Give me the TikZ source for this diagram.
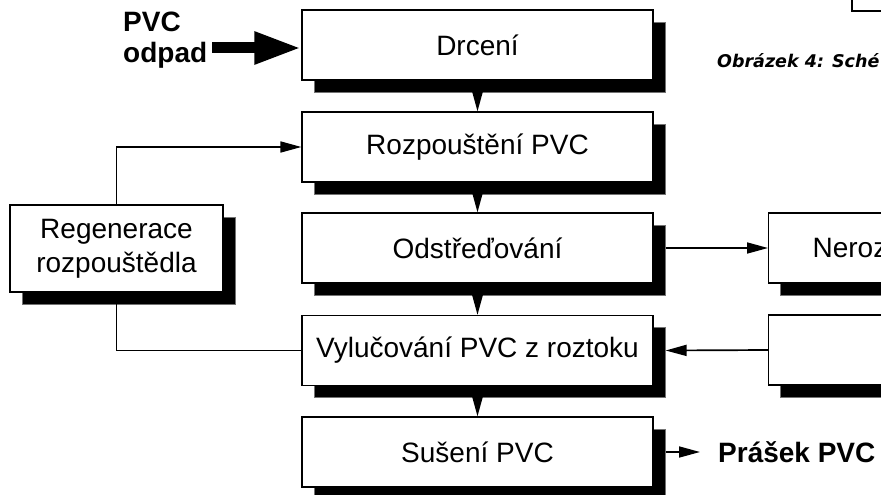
\documentclass[tikz,border=0pt]{standalone}
\usepackage{fontspec}
\setmainfont{Liberation Sans}
\newfontfamily\capfont{DejaVu Sans}
\usetikzlibrary{arrows.meta,shadows}
\begin{document}
\begin{tikzpicture}[x=1pt,y=-1pt,
  stagebox/.style={draw=black, line width=1.2pt, fill=white, inner sep=0pt,
    minimum width=351pt, minimum height=70pt,
    font=\fontsize{28}{34}\selectfont,
    drop shadow={shadow xshift=12pt, shadow yshift=-12pt, fill=black,
      draw=black!55, line width=0.6pt, opacity=1}},
  sidebox/.style={stagebox, minimum width=200pt, anchor=west},
  flow/.style={line width=1.7pt, -{Triangle[length=21pt,width=11pt]}},
  plain/.style={line width=1.7pt},
  infeed/.style={line width=11pt, -{Triangle[length=47pt,width=30pt]}},
  boldlabel/.style={inner sep=0pt, font=\bfseries\fontsize{28}{31}\selectfont}]

\useasboundingbox (0,0) rectangle (881,495);
\clip (0,0) rectangle (881,495);

% main process column
\node[stagebox] (drc) at (477.5,45)    {Drcení};
\node[stagebox] (roz) at (477.5,147)   {Rozpouštění PVC};
\node[stagebox] (ods) at (477.5,248)   {Odstřeďování};
\node[stagebox] (vyl) at (477.5,350.5) {Vylučování PVC z roztoku};
\node[stagebox] (sus) at (477.5,452)   {Sušení PVC};

% solvent recovery
\node[stagebox, minimum width=213pt, minimum height=87pt, align=center]
  (reg) at (116.5,248.5) {Regenerace\\rozpouštědla};

% side boxes on the right
\node[sidebox, text width=112pt, inner xsep=44pt, align=left]
  (ner) at (768,248) {Neroz};
\node[sidebox] (ret) at (768,350) {};

% frame corner at the top right
\node[draw=black, line width=1.5pt, minimum width=100pt, minimum height=60pt,
  anchor=south west, inner sep=0pt] (frm) at (851,12) {};

% caption
\node[inner sep=0pt, anchor=base west,
  font=\capfont\itshape\bfseries\fontsize{17.5}{20}\selectfont]
  (cap) at (717,67) {Obrázek 4: Sché};

% input and output labels
\node[boldlabel, align=left, anchor=north west] (pvc) at (123,12) {PVC\\odpad};
\node[boldlabel, anchor=base west] (pra) at (718,462) {Prášek PVC};

% connectors
\draw[infeed] ([xshift=5pt]pvc.east |- drc.west) ++(0,3) -- ([yshift=-3pt]drc.west);
\draw[flow] ([yshift=-12pt]drc.south) -- (roz.north);
\draw[flow] ([yshift=-12pt]roz.south) -- (ods.north);
\draw[flow] ([yshift=-12pt]ods.south) -- (vyl.north);
\draw[flow] ([yshift=-12pt]vyl.south) -- (sus.north);
\draw[flow] (reg.north) |- (roz.west);
\draw[plain] (reg.south) |- (vyl.west);
\draw[flow] ([xshift=12pt]ods.east) -- (ner.west);
\draw[flow] (ret.west) -- ([xshift=12pt]vyl.east);
\draw[flow] ([xshift=12pt]sus.east) -- ([xshift=-18pt]sus.east -| pra.west);
\end{tikzpicture}
\end{document}
